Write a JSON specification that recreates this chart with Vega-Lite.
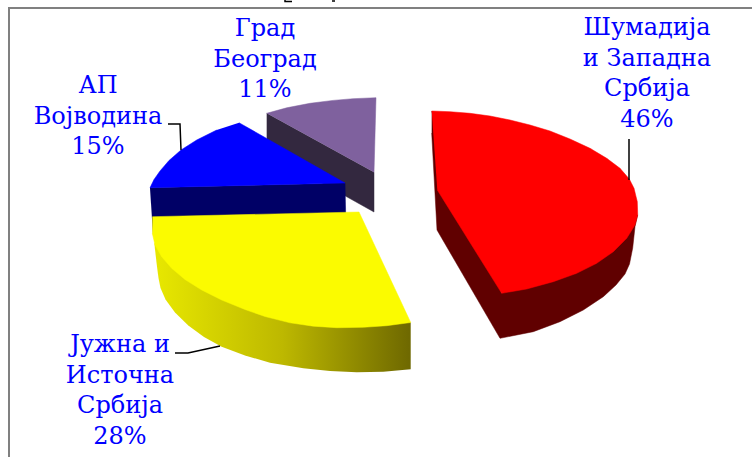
{"$schema":"https://vega.github.io/schema/vega-lite/v6.json","width":752,"height":457,"padding":0,"autosize":{"type":"none"},"background":"white","view":{"stroke":null},
"datasets":{"shapes":[
{"s":"purpleSide","i":1,"x":266.7,"y":113.3},{"s":"purpleSide","i":2,"x":374,"y":172.3},{"s":"purpleSide","i":3,"x":374,"y":212},{"s":"purpleSide","i":4,"x":266.7,"y":152},
{"s":"purpleTop","i":1,"x":266.7,"y":113.3},{"s":"purpleTop","i":2,"x":286.7,"y":107.8},{"s":"purpleTop","i":3,"x":310,"y":103.3},{"s":"purpleTop","i":4,"x":333,"y":100.4},{"s":"purpleTop","i":5,"x":353,"y":98.7},{"s":"purpleTop","i":6,"x":376,"y":97.7},{"s":"purpleTop","i":7,"x":374,"y":172.3},
{"s":"blueSide","i":1,"x":150,"y":187.7},{"s":"blueSide","i":2,"x":345,"y":183},{"s":"blueSide","i":3,"x":346,"y":230},{"s":"blueSide","i":4,"x":153,"y":235},
{"s":"blueTop","i":1,"x":239,"y":122.7},{"s":"blueTop","i":2,"x":345,"y":183},{"s":"blueTop","i":3,"x":150,"y":187.7},{"s":"blueTop","i":4,"x":154,"y":179.5},{"s":"blueTop","i":5,"x":160,"y":171},{"s":"blueTop","i":6,"x":169,"y":160.5},{"s":"blueTop","i":7,"x":181,"y":150},{"s":"blueTop","i":8,"x":196.7,"y":140},{"s":"blueTop","i":9,"x":216.7,"y":130},
{"s":"yellowSide","i":1,"x":410.7,"y":322.5},{"s":"yellowSide","i":2,"x":410.7,"y":369.3},{"s":"yellowSide","i":3,"x":383.3,"y":371.7},{"s":"yellowSide","i":4,"x":356.7,"y":372.3},{"s":"yellowSide","i":5,"x":330,"y":371},{"s":"yellowSide","i":6,"x":303.3,"y":368.3},{"s":"yellowSide","i":7,"x":270,"y":362.7},{"s":"yellowSide","i":8,"x":245,"y":355.5},{"s":"yellowSide","i":9,"x":221.7,"y":346.7},{"s":"yellowSide","i":10,"x":204,"y":337},{"s":"yellowSide","i":11,"x":188.3,"y":325.5},{"s":"yellowSide","i":12,"x":175,"y":312.5},{"s":"yellowSide","i":13,"x":165.5,"y":299.5},{"s":"yellowSide","i":14,"x":160.5,"y":288},{"s":"yellowSide","i":15,"x":158.5,"y":278},{"s":"yellowSide","i":16,"x":157,"y":266.7},{"s":"yellowSide","i":17,"x":154.3,"y":243.3},{"s":"yellowSide","i":18,"x":300,"y":280},
{"s":"yellowTop","i":1,"x":152.3,"y":216.7},{"s":"yellowTop","i":2,"x":359,"y":212},{"s":"yellowTop","i":3,"x":410.7,"y":322.5},{"s":"yellowTop","i":4,"x":386.7,"y":325.7},{"s":"yellowTop","i":5,"x":363.3,"y":327.3},{"s":"yellowTop","i":6,"x":336.7,"y":327.7},{"s":"yellowTop","i":7,"x":313.3,"y":326.2},{"s":"yellowTop","i":8,"x":290,"y":322.8},{"s":"yellowTop","i":9,"x":265,"y":316.5},{"s":"yellowTop","i":10,"x":245,"y":309.5},{"s":"yellowTop","i":11,"x":221.7,"y":300},{"s":"yellowTop","i":12,"x":201.7,"y":290},{"s":"yellowTop","i":13,"x":185,"y":279.5},{"s":"yellowTop","i":14,"x":171.7,"y":268.3},{"s":"yellowTop","i":15,"x":161.7,"y":256.7},{"s":"yellowTop","i":16,"x":155,"y":245},{"s":"yellowTop","i":17,"x":152.3,"y":233.3},
{"s":"redSide","i":1,"x":431.7,"y":111},{"s":"redSide","i":2,"x":501.7,"y":293.3},{"s":"redSide","i":3,"x":637.7,"y":215},{"s":"redSide","i":4,"x":635,"y":226.7},{"s":"redSide","i":5,"x":632.7,"y":248},{"s":"redSide","i":6,"x":629.5,"y":264},{"s":"redSide","i":7,"x":625,"y":274},{"s":"redSide","i":8,"x":616,"y":285},{"s":"redSide","i":9,"x":603.3,"y":296.7},{"s":"redSide","i":10,"x":583.3,"y":310},{"s":"redSide","i":11,"x":560,"y":321.7},{"s":"redSide","i":12,"x":533.3,"y":331.7},{"s":"redSide","i":13,"x":500,"y":338.3},{"s":"redSide","i":14,"x":437,"y":230},{"s":"redSide","i":15,"x":431.7,"y":133},
{"s":"redTop","i":1,"x":431.7,"y":111},{"s":"redTop","i":2,"x":450,"y":111.7},{"s":"redTop","i":3,"x":470,"y":113.3},{"s":"redTop","i":4,"x":490,"y":116},{"s":"redTop","i":5,"x":510,"y":120},{"s":"redTop","i":6,"x":530,"y":125},{"s":"redTop","i":7,"x":550,"y":131},{"s":"redTop","i":8,"x":570,"y":139},{"s":"redTop","i":9,"x":590,"y":148.3},{"s":"redTop","i":10,"x":606.7,"y":158.3},{"s":"redTop","i":11,"x":620,"y":168.3},{"s":"redTop","i":12,"x":629.3,"y":179},{"s":"redTop","i":13,"x":634,"y":188.3},{"s":"redTop","i":14,"x":637.3,"y":201.7},{"s":"redTop","i":15,"x":637.7,"y":215},{"s":"redTop","i":16,"x":635,"y":225},{"s":"redTop","i":17,"x":626.7,"y":238.3},{"s":"redTop","i":18,"x":613.3,"y":251.7},{"s":"redTop","i":19,"x":596.7,"y":263.3},{"s":"redTop","i":20,"x":576.7,"y":273.3},{"s":"redTop","i":21,"x":553.3,"y":281.7},{"s":"redTop","i":22,"x":526.7,"y":289},{"s":"redTop","i":23,"x":501.7,"y":293.3},{"s":"redTop","i":24,"x":437.3,"y":190}
],
"lines":[
{"s":"frame","i":1,"x":9,"y":457},{"s":"frame","i":2,"x":9,"y":8},{"s":"frame","i":3,"x":752,"y":8},
{"s":"l1","i":1,"x":168,"y":124},{"s":"l1","i":2,"x":180,"y":124},{"s":"l1","i":3,"x":181,"y":150},
{"s":"l2","i":1,"x":629,"y":139},{"s":"l2","i":2,"x":629,"y":180},
{"s":"l3","i":1,"x":175,"y":353},{"s":"l3","i":2,"x":188,"y":353},{"s":"l3","i":3,"x":220,"y":346},
{"s":"t1","i":1,"x":285,"y":0},{"s":"t1","i":2,"x":285,"y":1.5},{"s":"t1","i":3,"x":292,"y":1.5},
{"s":"t2","i":1,"x":332,"y":1},{"s":"t2","i":2,"x":335,"y":1}
],
"labels":[
{"t":"Шумадија\nи Западна\nСрбија\n46%","x":647,"y":35},
{"t":"Град\nБеоград\n11%","x":265,"y":36},
{"t":"АП\nВојводина\n15%","x":98,"y":93},
{"t":"Јужна и\nИсточна\nСрбија\n28%","x":120,"y":352}
]},
"encoding":{
"x":{"field":"x","type":"quantitative","axis":null,"scale":{"domain":[0,752],"nice":false,"zero":false}},
"y":{"field":"y","type":"quantitative","axis":null,"scale":{"domain":[0,457],"nice":false,"zero":false,"reverse":true}},
"order":{"field":"i","type":"ordinal"}
},
"layer":[
{"data":{"name":"shapes"},"transform":[{"filter":"datum.s=='purpleSide'"}],"mark":{"type":"line","fill":"#33283F","stroke":"#33283F","strokeWidth":0.5}},
{"data":{"name":"shapes"},"transform":[{"filter":"datum.s=='purpleTop'"}],"mark":{"type":"line","fill":"#7F619E","stroke":"#7F619E","strokeWidth":0.5}},
{"data":{"name":"shapes"},"transform":[{"filter":"datum.s=='blueSide'"}],"mark":{"type":"line","fill":"#000066","stroke":"#000066","strokeWidth":0.5}},
{"data":{"name":"shapes"},"transform":[{"filter":"datum.s=='blueTop'"}],"mark":{"type":"line","fill":"#0000FF","stroke":"#0000FF","strokeWidth":0.5}},
{"data":{"name":"shapes"},"transform":[{"filter":"datum.s=='yellowSide'"}],"mark":{"type":"line","strokeWidth":0,"fill":{"gradient":"linear","x1":0,"x2":1,"y1":0,"y2":0,"stops":[{"offset":0,"color":"#E8E800"},{"offset":0.5,"color":"#BDB800"},{"offset":1,"color":"#6E6800"}]}}},
{"data":{"name":"shapes"},"transform":[{"filter":"datum.s=='yellowTop'"}],"mark":{"type":"line","fill":"#FBFB00","stroke":"#FBFB00","strokeWidth":0.5}},
{"data":{"name":"shapes"},"transform":[{"filter":"datum.s=='redSide'"}],"mark":{"type":"line","fill":"#600000","stroke":"#600000","strokeWidth":0.5}},
{"data":{"name":"shapes"},"transform":[{"filter":"datum.s=='redTop'"}],"mark":{"type":"line","fill":"#FF0000","stroke":"#FF0000","strokeWidth":0.5}},
{"data":{"name":"lines"},"transform":[{"filter":"datum.s=='frame'"}],"mark":{"type":"line","stroke":"#808080","strokeWidth":2}},
{"data":{"name":"lines"},"transform":[{"filter":"datum.s=='l1'"}],"mark":{"type":"line","stroke":"#000000","strokeWidth":1.5}},
{"data":{"name":"lines"},"transform":[{"filter":"datum.s=='l2'"}],"mark":{"type":"line","stroke":"#000000","strokeWidth":1.5}},
{"data":{"name":"lines"},"transform":[{"filter":"datum.s=='l3'"}],"mark":{"type":"line","stroke":"#000000","strokeWidth":1.5}},
{"data":{"name":"lines"},"transform":[{"filter":"datum.s=='t1'"}],"mark":{"type":"line","stroke":"#000000","strokeWidth":1.5}},
{"data":{"name":"lines"},"transform":[{"filter":"datum.s=='t2'"}],"mark":{"type":"line","stroke":"#000000","strokeWidth":1.5}},
{"data":{"name":"labels"},"mark":{"type":"text","font":"DejaVu Serif","fontSize":24,"lineHeight":30.5,"lineBreak":"\n","align":"center","baseline":"alphabetic","fill":"#0000FF"},"encoding":{"text":{"field":"t"},"order":null}}
]}
